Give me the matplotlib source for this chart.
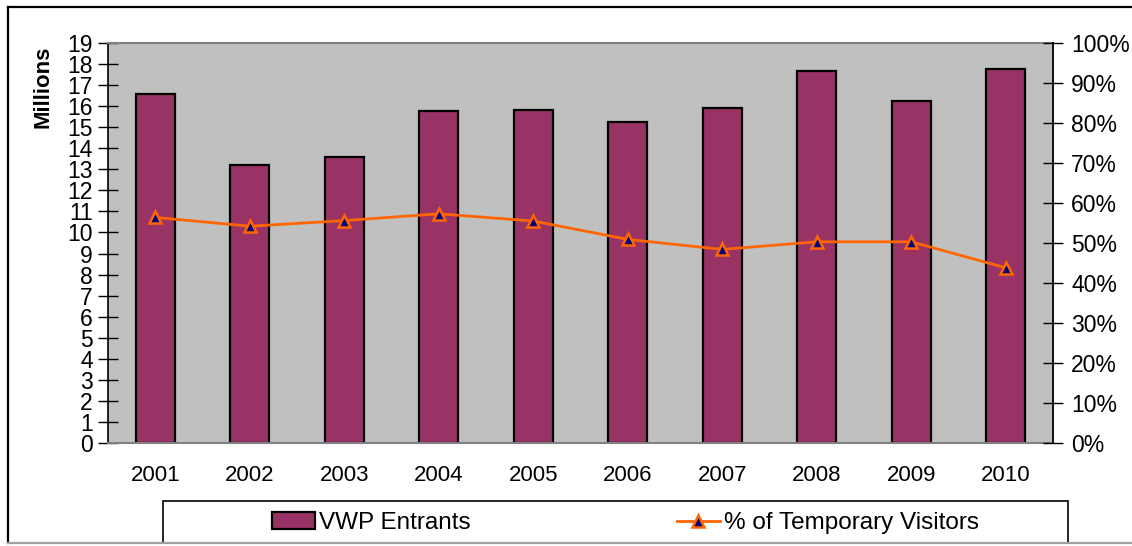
import numpy as np
import matplotlib.pyplot as plt
from matplotlib.patches import Rectangle
from matplotlib.lines import Line2D

plt.rcParams['font.family'] = ['Liberation Sans', 'DejaVu Sans']

# ── Data ──────────────────────────────────────────────────────────────────────
years = ['2001', '2002', '2003', '2004', '2005', '2006', '2007', '2008', '2009', '2010']
vwp_entrants = [16.59, 13.22, 13.60, 15.75, 15.82, 15.27, 15.93, 17.65, 16.23, 17.77]   # millions
pct_temp_visitors = [56.4, 54.2, 55.6, 57.3, 55.5, 50.9, 48.4, 50.3, 50.3, 43.8]       # %

BAR_C = '#993366'
LINE_C = '#FF6600'

# ── Figure ────────────────────────────────────────────────────────────────────
fig = plt.figure(figsize=(11.32, 5.46), dpi=100)
W, H = 1132, 546
ax = fig.add_axes([108 / W, 1 - 443 / H, (1053 - 108) / W, (443 - 43) / H])
ax.set_facecolor('#C0C0C0')

# outer chart frame: black left/top, grey bottom
fig.add_artist(Line2D([8 / W, 8 / W], [3 / H, 1 - 7 / H], transform=fig.transFigure,
                      color='black', linewidth=1.6))
fig.add_artist(Line2D([8 / W, 1.0], [1 - 7 / H, 1 - 7 / H], transform=fig.transFigure,
                      color='black', linewidth=1.6))
fig.add_artist(Line2D([8 / W, 1.0], [3 / H, 3 / H], transform=fig.transFigure,
                      color='#A0A0A0', linewidth=1.6))

x = np.arange(len(years))
ax.bar(x, vwp_entrants, width=0.41, color=BAR_C, edgecolor='black', linewidth=1.6, zorder=2)
ax.set_xlim(-0.5, len(years) - 0.5)
ax.set_ylim(0, 19)
ax.set_yticks(range(0, 20))
ax.set_xticks(x)
ax.set_xticklabels(years)
ax.tick_params(axis='x', length=0, pad=16, labelsize=16)
ax.tick_params(axis='y', direction='inout', length=14, width=1, labelsize=16.5, pad=4)
ax.set_ylabel('Millions', fontsize=16, fontweight='bold')
ax.yaxis.set_label_coords(-0.058, 0.89)

for s in ['top', 'bottom', 'right']:
    ax.spines[s].set_color('#808080')
    ax.spines[s].set_linewidth(1.5)
ax.spines['left'].set_color('black')
ax.spines['left'].set_linewidth(1.2)

ax2 = ax.twinx()
ax2.plot(x, pct_temp_visitors, color=LINE_C, linewidth=2.0, marker='^', markersize=9,
         markerfacecolor='#000080', markeredgecolor=LINE_C, markeredgewidth=1.8, zorder=3)
ax2.set_ylim(0, 100)
ax2.set_yticks(range(0, 101, 10))
ax2.set_yticklabels([f'{v}%' for v in range(0, 101, 10)])
ax2.tick_params(axis='y', direction='inout', length=14, width=1, labelsize=16.5, pad=6)
ax2.spines['right'].set_color('black')
ax2.spines['right'].set_linewidth(1.2)
for s in ['top', 'bottom', 'left']:
    ax2.spines[s].set_visible(False)

# ── Legend: frame box plus two entries ───────────────────────────────────────
fig.add_artist(Rectangle((163 / W, 3 / H), (1068 - 163) / W, (543 - 501) / H,
                         transform=fig.transFigure, fill=False,
                         edgecolor='black', linewidth=1.2))
bar_h = Rectangle((0, 0), 1, 1, facecolor=BAR_C, edgecolor='black', linewidth=1.6)
line_h = Line2D([], [], color=LINE_C, linewidth=2.0, marker='^', markersize=9,
                markerfacecolor='#000080', markeredgecolor=LINE_C, markeredgewidth=1.8)
leg1 = fig.legend([bar_h], ['VWP Entrants'], loc='center left',
                  bbox_to_anchor=(272 / W, 1 - 523 / H), frameon=False, fontsize=17.5,
                  handlelength=1.75, handletextpad=0.2, borderpad=0, borderaxespad=0)
leg2 = fig.legend([line_h], ['% of Temporary Visitors'], loc='center left',
                  bbox_to_anchor=(677 / W, 1 - 523 / H), frameon=False, fontsize=17.5,
                  handlelength=1.75, handletextpad=0.2, borderpad=0, borderaxespad=0)

plt.savefig('out.png', dpi=100)
